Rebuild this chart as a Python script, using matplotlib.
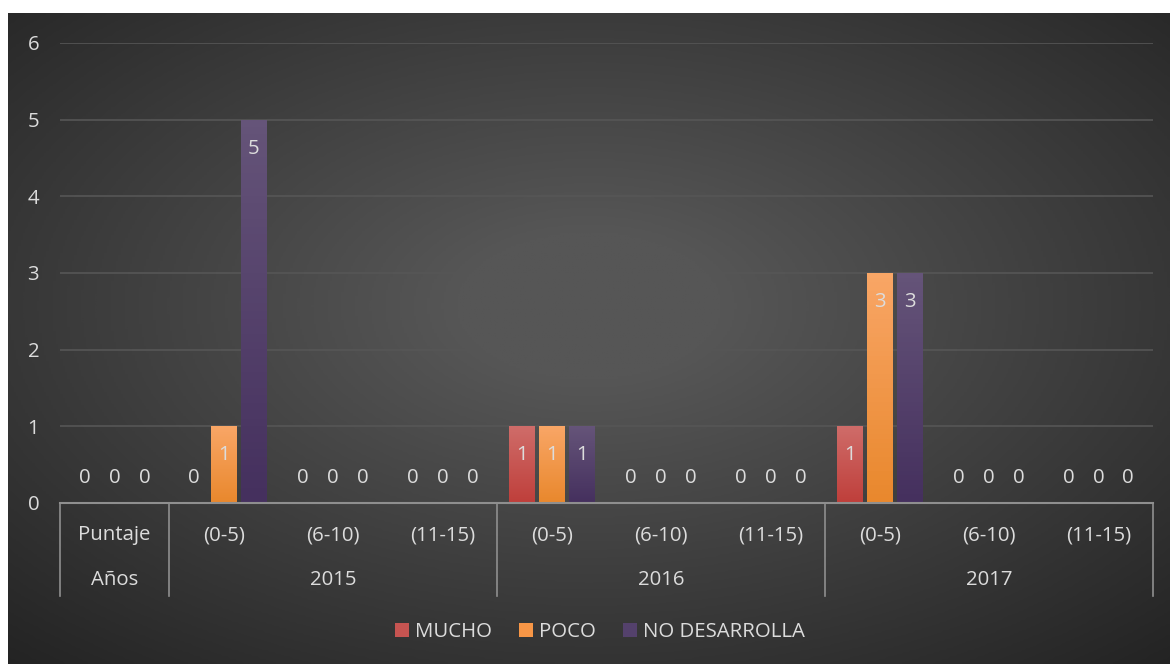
import numpy as np
import matplotlib
matplotlib.use("Agg")
import matplotlib.pyplot as plt
from matplotlib.colors import LinearSegmentedColormap
from matplotlib.patches import Patch

plt.rcParams['font.family'] = ['Open Sans', 'DejaVu Sans']

# data
puntaje = ["Puntaje", "(0-5)", "(6-10)", "(11-15)", "(0-5)", "(6-10)", "(11-15)",
           "(0-5)", "(6-10)", "(11-15)"]
anios = ["Años", "2015", "2016", "2017"]
anio_span = [(0, 0), (1, 3), (4, 6), (7, 9)]
series = ["MUCHO", "POCO", "NO DESARROLLA"]
mucho = [0, 0, 0, 0, 1, 0, 0, 1, 0, 0]
poco = [0, 1, 0, 0, 1, 0, 0, 3, 0, 0]
no_desarrolla = [0, 5, 0, 0, 1, 0, 0, 3, 0, 0]

colors = ["#c65451", "#f79646", "#54416c"]
grads = [("#cf6c69", "#bf3f3b"), ("#f9a666", "#e9882d"), ("#655479", "#45305e")]
txt = "#dcdcdc"
fs = 14.7

W, H = 1170, 664
fig = plt.figure(figsize=(W / 100, H / 100), dpi=100, facecolor="white")

# dark radial background
bg = fig.add_axes([8 / W, 0, 1 - 8 / W, (H - 13) / H])
yy, xx = np.mgrid[0:1:300j, 0:1:500j]
r = np.sqrt(((xx - 0.5) / 0.75) ** 2 + ((yy - 0.45) / 0.75) ** 2)
shade = np.clip(1 - r, 0, 1)
bg_cmap = LinearSegmentedColormap.from_list("bg", ["#232323", "#565656"])
bg.imshow(shade, cmap=bg_cmap, aspect="auto", extent=[0, 1, 0, 1], vmin=0, vmax=0.85)
bg.set_axis_off()

ax = fig.add_axes([60 / W, (H - 503) / H, 1093 / W, 460 / H])
ax.set_facecolor("none")

x = np.arange(len(puntaje))
step, bw = 0.274, 0.229
all_vals = [mucho, poco, no_desarrolla]
for i, vals in enumerate(all_vals):
    bars = ax.bar(x + (i - 1) * step, vals, width=bw, color=colors[i], zorder=2)
    cm = LinearSegmentedColormap.from_list("g%d" % i, [grads[i][1], grads[i][0]])
    for b, v in zip(bars, vals):
        if v > 0:
            b.set_alpha(0)
            im = ax.imshow(np.linspace(0, 1, 50).reshape(-1, 1), cmap=cm,
                           origin="lower", aspect="auto", zorder=3,
                           extent=[b.get_x(), b.get_x() + b.get_width(), 0, v])
            im.set_clip_path(b)
            ax.annotate(str(v), (b.get_x() + b.get_width() / 2, v),
                        xytext=(0, -29), textcoords="offset pixels",
                        ha="center", va="center", color=txt, fontsize=fs, zorder=5)
        else:
            ax.annotate(str(v), (b.get_x() + b.get_width() / 2, 0),
                        xytext=(0, 25), textcoords="offset pixels",
                        ha="center", va="center", color=txt, fontsize=fs, zorder=5)

ax.set_xlim(-0.5, len(puntaje) - 0.5)
ax.set_ylim(0, 6)
ax.set_yticks(range(7))
ax.tick_params(axis="y", colors=txt, labelsize=fs, length=0, pad=15)
ax.yaxis.grid(True, color="#565656", linewidth=1.2, zorder=0)
ax.set_xticks([])
for s in ax.spines.values():
    s.set_visible(False)

# multi-level category axis
trans = ax.get_xaxis_transform()
ax.plot([-0.5, len(puntaje) - 0.5], [0, 0], color="#8f8f8f", lw=1.5,
        transform=trans, clip_on=False, zorder=4)
for sep in [-0.5, 0.5, 3.5, 6.5, 9.5]:
    ax.plot([sep, sep], [0, -0.202], color="#8f8f8f", lw=1.2,
            transform=trans, clip_on=False)
for xi, lab in zip(x, puntaje):
    ax.text(xi, -0.0696, lab, transform=trans, ha="center", va="center",
            color=txt, fontsize=fs)
for (a, b), lab in zip(anio_span, anios):
    ax.text((a + b) / 2, -0.167, lab, transform=trans, ha="center", va="center",
            color=txt, fontsize=fs)

handles = [Patch(facecolor=c) for c in colors]
fig.legend(handles, series, loc="center", bbox_to_anchor=(600 / W, 1 - 632 / H),
           ncol=3, frameon=False, fontsize=fs, labelcolor=txt,
           handlelength=0.7, handleheight=0.7, handletextpad=0.3, columnspacing=1.3)

fig.savefig("out.png", dpi=100, facecolor=fig.get_facecolor())
